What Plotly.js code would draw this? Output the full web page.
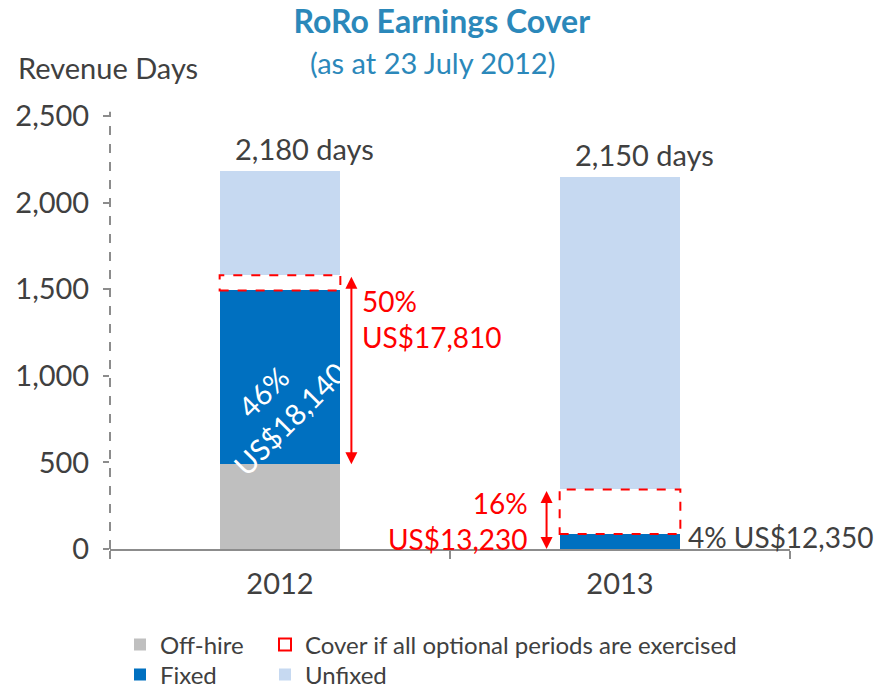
<!DOCTYPE html>
<html>
<head>
<meta charset="utf-8">
<script src="https://cdn.plot.ly/plotly-3.0.1.min.js"></script>
<style>html,body{margin:0;padding:0;background:#fff;}#chart{width:885px;height:691px;}</style>
</head>
<body>
<div id="chart"></div>
<script>
// ---- data ----
const years = ['2012', '2013'];
const offHire = [490, 0];
const fixed = [1003, 86];
const cover = [88, 258];            // additional days if optional periods exercised
const unfixed = [599, 1806];
const totals = [2180, 2150];
const totalLabels = ['2,180 days', '2,150 days'];
const fixedLabels = ['46%<br>US$18,140', '4% US$12,350'];
const coverLabels = ['50%<br>US$17,810', '16%<br>US$13,230'];
const yTicks = [0, 500, 1000, 1500, 2000, 2500];

// ---- style ----
const FONT = 'Lato, "Open Sans", sans-serif';
const DARK = '#404040';
const RED = '#FF0000';
const BARW = 0.355;
const FS = 29;

const traces = [
  {type: 'bar', name: 'Off-hire', x: years, y: offHire, width: BARW,
   marker: {color: '#BFBFBF'}, legend: 'legend'},
  {type: 'bar', name: 'Fixed', x: years, y: fixed, width: BARW,
   marker: {color: '#0070C0'}, legend: 'legend2'},
  {type: 'bar', name: 'cover', x: years, y: cover, width: BARW,
   marker: {color: '#FFFFFF'}, showlegend: false},
  {type: 'bar', name: 'Unfixed', x: years, y: unfixed, width: BARW,
   marker: {color: '#C6D9F1'}, legend: 'legend4'}
];

const shapes = [];
years.forEach((yr, i) => {
  const base = offHire[i] + fixed[i];
  shapes.push({type: 'rect', xref: 'x', yref: 'y',
    x0: i - BARW / 2, x1: i + BARW / 2, y0: base, y1: base + cover[i],
    line: {color: RED, width: 2, dash: 'dash'}, fillcolor: 'rgba(0,0,0,0)',
    showlegend: i === 0, name: 'Cover if all optional periods are exercised',
    legend: 'legend3'});
});
// dashed y-axis line
shapes.push({type: 'line', xref: 'paper', yref: 'paper', x0: 0, x1: 0, y0: 0, y1: 1.01,
  line: {color: '#8C8C8C', width: 2, dash: 'dash'}});

const annotations = [];
years.forEach((yr, i) => {
  annotations.push({x: i, y: totals[i], xref: 'x', yref: 'y', text: totalLabels[i],
    showarrow: false, yanchor: 'bottom', yshift: 3, xshift: 24, font: {family: FONT, size: FS, color: DARK}});
});
// fixed label 2012 (rotated, inside bar)
annotations.push({x: 0, y: offHire[0] + fixed[0] * 0.34, xref: 'x', yref: 'y', text: fixedLabels[0],
  showarrow: false, textangle: -45, xshift: -4, font: {family: FONT, size: 29, color: '#FFFFFF'}});
// fixed label 2013 (right of bar)
annotations.push({x: 1 + BARW / 2, y: offHire[1] + fixed[1], xref: 'x', yref: 'y', text: fixedLabels[1],
  showarrow: false, xanchor: 'left', yanchor: 'middle', xshift: 6, yshift: -3,
  font: {family: FONT, size: 28, color: DARK}});
// arrows for cover
const arrowX = [0 + 0.21, 1 - 0.216];
years.forEach((yr, i) => {
  const lo = offHire[i];
  const hi = offHire[i] + fixed[i] + cover[i];
  annotations.push({x: arrowX[i], y: lo, ax: arrowX[i], ay: hi, xref: 'x', yref: 'y',
    axref: 'x', ayref: 'y', text: '', showarrow: true, arrowhead: 2, arrowsize: 1.2,
    arrowside: 'end+start', arrowwidth: 2, arrowcolor: RED});
});
annotations.push({x: arrowX[0] + 0.025, y: 1330, xref: 'x', yref: 'y', text: coverLabels[0],
  showarrow: false, xanchor: 'left', align: 'left', font: {family: FONT, size: 28, color: RED}});
annotations.push({x: arrowX[1] - 0.05, y: 160, xref: 'x', yref: 'y', text: coverLabels[1],
  showarrow: false, xanchor: 'right', align: 'right', font: {family: FONT, size: 28, color: RED}});
// axis title & subtitle
annotations.push({xref: 'paper', yref: 'paper', x: -0.138, y: 1.112, xanchor: 'left', yanchor: 'middle',
  text: 'Revenue Days', showarrow: false, font: {family: FONT, size: FS, color: DARK}});
annotations.push({xref: 'paper', yref: 'paper', x: 0.474, y: 1.123, xanchor: 'center', yanchor: 'middle',
  text: '(as at 23 July 2012)', showarrow: false, font: {family: FONT, size: 29, color: '#2B88BA'}});

const legendBase = {orientation: 'h', xref: 'container', yref: 'container', xanchor: 'left', yanchor: 'middle',
  font: {family: FONT, size: 24, color: DARK}, bgcolor: 'rgba(0,0,0,0)', borderwidth: 0};

const layout = {
  width: 885, height: 691,
  margin: {l: 110, r: 95, t: 116, b: 142},
  paper_bgcolor: '#FFFFFF', plot_bgcolor: '#FFFFFF',
  font: {family: FONT, color: DARK},
  title: {text: '<b>RoRo Earnings Cover</b>', x: 0.488, xanchor: 'center', y: 0.968, yanchor: 'middle',
    xref: 'paper', yref: 'container', font: {family: FONT, size: 32, color: '#2B88BA'}},
  barmode: 'stack',
  showlegend: true,
  xaxis: {type: 'category', range: [-0.5, 1.5], showline: true, linecolor: '#8C8C8C', linewidth: 2,
    ticks: 'outside', tickson: 'boundaries', ticklen: 8, tickwidth: 2, tickcolor: '#8C8C8C',
    ticklabelstandoff: 8, automargin: false,
    showgrid: false, zeroline: false, tickfont: {family: FONT, size: FS, color: DARK}},
  yaxis: {range: [0, 2500], tickvals: yTicks, tickformat: ',', ticks: 'outside', ticklen: 6,
    tickwidth: 2, tickcolor: '#8C8C8C', showline: false, showgrid: false, zeroline: false,
    ticklabelstandoff: 8, automargin: false,
    tickfont: {family: FONT, size: FS, color: DARK}},
  legend: Object.assign({}, legendBase, {x: 120 / 885, y: 1 - 645 / 691}),
  legend2: Object.assign({}, legendBase, {x: 120 / 885, y: 1 - 675 / 691}),
  legend3: Object.assign({}, legendBase, {x: 265 / 885, y: 1 - 645 / 691}),
  legend4: Object.assign({}, legendBase, {x: 265 / 885, y: 1 - 675 / 691}),
  shapes: shapes,
  annotations: annotations
};

Plotly.newPlot('chart', traces, layout, {displayModeBar: false, staticPlot: true});
</script>
</body>
</html>
